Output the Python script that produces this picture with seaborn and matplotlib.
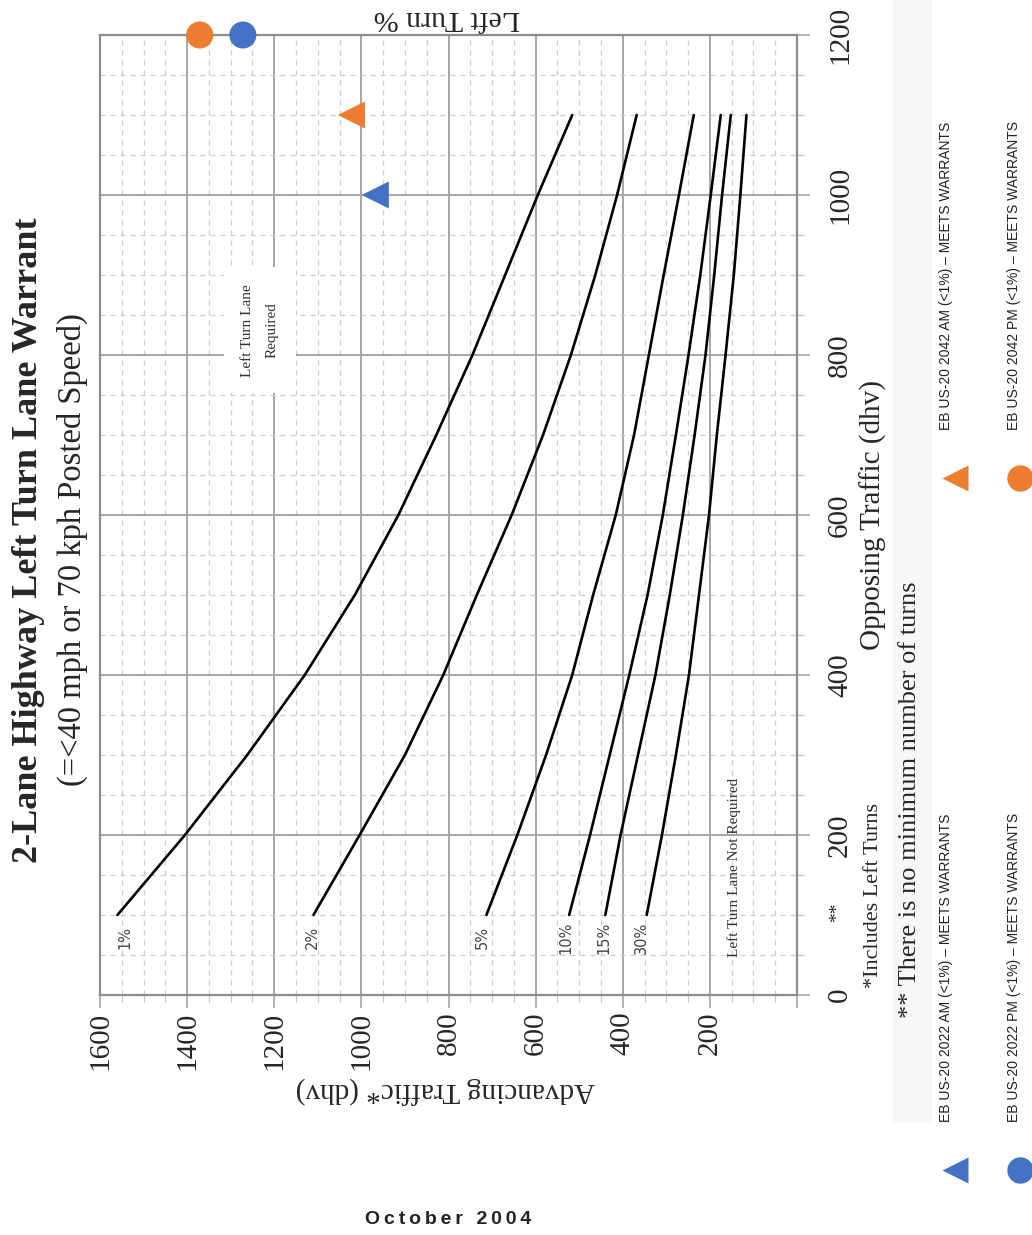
import matplotlib
matplotlib.use("Agg")
import matplotlib.pyplot as plt
import seaborn as sns
import pandas as pd
from matplotlib.ticker import MultipleLocator
from matplotlib.patches import Rectangle

# opposing traffic (dhv) where each warrant curve is read
opposing = [100, 200, 300, 400, 500, 600, 700, 800, 900, 1000, 1100]

# advancing traffic (dhv) for each left turn percentage
adv_1 = [1560, 1405, 1262, 1130, 1015, 915, 828, 745, 670, 595, 516]
adv_2 = [1110, 1004, 900, 812, 735, 655, 583, 519, 463, 413, 368]
adv_5 = [713, 642, 576, 516, 468, 416, 374, 340, 306, 271, 237]
adv_10 = [523, 475, 430, 385, 343, 308, 278, 249, 222, 198, 175]
adv_15 = [440, 405, 365, 325, 292, 262, 235, 210, 190, 172, 152]
adv_30 = [345, 310, 278, 248, 225, 202, 184, 164, 145, 130, 116]
turn_pct = ["1%", "2%", "5%", "10%", "15%", "30%"]
label_adv = [1543, 1112, 723, 530, 443, 356]

# count points
pt_name = ["2022 AM", "2022 PM", "2042 AM", "2042 PM"]
pt_year = ["2022", "2022", "2042", "2042"]
pt_peak = ["AM", "PM", "AM", "PM"]
pt_adv = [968, 1272, 1023, 1371]
pt_opp = [1000, 1200, 1100, 1200]

adv_ticks = [0, 200, 400, 600, 800, 1000, 1200, 1400, 1600]
opp_ticks = [0, 200, 400, 600, 800, 1000, 1200]

BLUE = "#4472C4"
ORANGE = "#ED7D31"
GRID = "#a6a6a6"

sns.set_theme(style="white")
plt.rcParams["font.family"] = ["Liberation Serif", "DejaVu Serif"]

W, H = 1032, 1235
fig = plt.figure(figsize=(W / 100, H / 100), dpi=100)
ax = fig.add_axes([100 / W, 1 - 995 / H, 697 / W, 960 / H])

rows = []
for pct, adv in zip(turn_pct, [adv_1, adv_2, adv_5, adv_10, adv_15, adv_30]):
    for o, a in zip(opposing, adv):
        rows.append({"pct": pct, "advancing": a, "opposing": o})
curves = pd.DataFrame(rows)

sns.lineplot(data=curves, x="advancing", y="opposing", units="pct", estimator=None,
             sort=False, color="black", lw=1.9, ax=ax, zorder=4)

points = pd.DataFrame({"name": pt_name, "year": pt_year, "peak": pt_peak,
                       "advancing": pt_adv, "opposing": pt_opp})
sns.scatterplot(data=points, x="advancing", y="opposing", hue="year", style="peak",
                palette={"2022": BLUE, "2042": ORANGE}, markers={"AM": "<", "PM": "o"},
                s=380, linewidth=0, legend=False, clip_on=False, zorder=6, ax=ax)

ax.set_xlim(1600, 0)
ax.set_ylim(0, 1200)
ax.set_xticks(adv_ticks)
ax.set_xticklabels([""] + [str(t) for t in adv_ticks[1:]])
ax.set_yticks(opp_ticks)
ax.set_yticklabels([str(t) for t in opp_ticks])
ax.xaxis.set_minor_locator(MultipleLocator(50))
ax.yaxis.set_minor_locator(MultipleLocator(50))
ax.yaxis.tick_right()
ax.set_xlabel("")
ax.set_ylabel("")

ax.tick_params(axis="x", which="major", labelrotation=90, labelsize=21, length=9,
               width=1.2, color=GRID, pad=3, bottom=True)
ax.tick_params(axis="x", which="minor", length=5, width=0.9, color="#c8c8c8", bottom=True)
ax.tick_params(axis="y", which="major", labelrotation=90, labelsize=21, length=9,
               width=1.2, color=GRID, pad=22, right=True, left=False)
ax.tick_params(axis="y", which="minor", length=5, width=0.9, color="#c8c8c8",
               right=True, left=False)
for lab in ax.get_yticklabels():
    lab.set_verticalalignment("center")
    lab.set_horizontalalignment("center")

ax.set_axisbelow(True)
ax.grid(which="major", color=GRID, lw=1.4, ls="-")
ax.grid(which="minor", color="#cdcdcd", lw=0.9, ls=(0, (4, 4)))
for sp in ax.spines.values():
    sp.set_color("#8c8c8c")
    sp.set_linewidth(1.6)

for pct, a in zip(turn_pct, label_adv):
    ax.text(a, 72, pct, rotation=90, ha="center", va="center", fontsize=10.5,
            color="#444444", family="DejaVu Sans", zorder=5)

ax.text(1233, 831, "Left Turn Lane\nRequired", rotation=90, ha="center", va="center",
        fontsize=11, color="#333333", multialignment="center", linespacing=2.2, zorder=3,
        bbox=dict(facecolor="white", edgecolor="none", pad=12))
ax.text(145, 160, "Left Turn Lane Not Required", rotation=90, ha="center", va="center",
        fontsize=11, color="#333333", zorder=3)

# overlay in pixel coordinates for titles, notes and key
ov = fig.add_axes([0, 0, 1, 1])
ov.set_xlim(0, W)
ov.set_ylim(H, 0)
ov.axis("off")

ov.add_patch(Rectangle((893, 0), 39, 1122, facecolor="#f7f7f7", edgecolor="none", zorder=0))

ov.text(29, 540, "2-Lane Highway Left Turn Lane Warrant", rotation=90, ha="center",
        va="center", fontsize=26, fontweight="bold")
ov.text(72, 550, "(=<40 mph or 70 kph Posted Speed)", rotation=90, ha="center",
        va="center", fontsize=23.5)
ov.text(447, 18, "Left Turn %", rotation=180, ha="center", va="center", fontsize=21.5)
ov.text(445, 1090, "Advancing Traffic* (dhv)", rotation=180, ha="center", va="center",
        fontsize=21)
ov.text(873, 515, "Opposing Traffic (dhv)", rotation=90, ha="center", va="center",
        fontsize=21)
ov.text(838, 912, "**", rotation=90, ha="center", va="center", fontsize=14)
ov.text(873, 895, "*Includes Left Turns", rotation=90, ha="center", va="center",
        fontsize=16)
ov.text(910, 800, "** There is no minimum number of turns", rotation=90, ha="center",
        va="center", fontsize=19)

legend_txt = ["EB US-20 2022 AM (<1%) \u2013 MEETS WARRANTS",
              "EB US-20 2022 PM (<1%) \u2013 MEETS WARRANTS",
              "EB US-20 2042 AM (<1%) \u2013 MEETS WARRANTS",
              "EB US-20 2042 PM (<1%) \u2013 MEETS WARRANTS"]
legend_pos = [(946, 1122, 955, 1170, BLUE, "<"), (1014, 1122, 1020, 1170, BLUE, "o"),
              (946, 430, 955, 478, ORANGE, "<"), (1014, 430, 1020, 478, ORANGE, "o")]
for txt, (tx, ty, mx, my, col, mk) in zip(legend_txt, legend_pos):
    ov.text(tx, ty, txt, rotation=90, ha="center", va="bottom", fontsize=10,
            family="Liberation Sans", color="#222222")
    ov.plot([mx], [my], marker=mk, ms=19, color=col, mec="none", clip_on=False)

ov.text(448, 1220, "\u2009".join("October") + "\u2002\u2009" + "\u2009".join("2004"),
        ha="center", va="center", fontsize=14, fontweight="bold",
        family=["Liberation Sans", "DejaVu Sans"], color="#222222")

fig.savefig("out.png", dpi=100)
